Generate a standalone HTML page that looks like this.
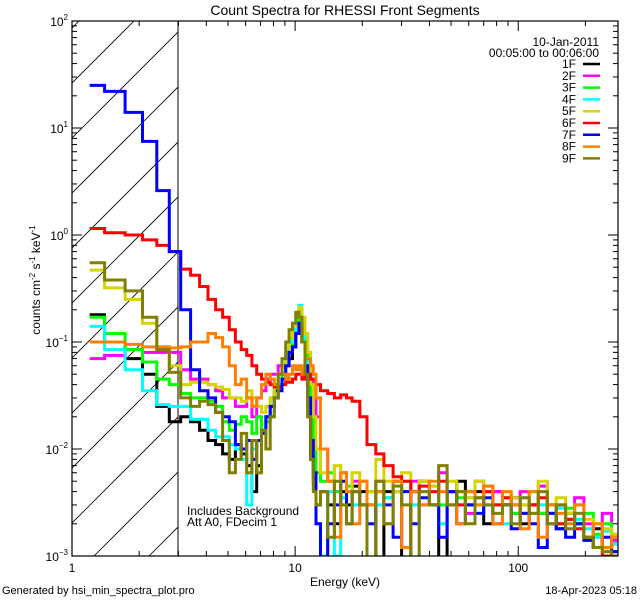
<!DOCTYPE html>
<html><head><meta charset="utf-8"><style>
html,body{margin:0;padding:0;background:#fff;}
svg{display:block;font-family:"Liberation Sans",sans-serif;}
</style></head><body>
<svg id="chart" width="640" height="600" viewBox="0 0 640 600" xmlns="http://www.w3.org/2000/svg">
<defs><clipPath id="pc"><rect x="72" y="21" width="546" height="535"/></clipPath>
<clipPath id="hc"><rect x="72" y="21" width="106" height="535"/></clipPath></defs>
<rect x="0" y="0" width="640" height="600" fill="#fff"/>
<text x="345" y="15" font-size="14" text-anchor="middle">Count Spectra for RHESSI Front Segments</text>
<g id="hatch" clip-path="url(#hc)"></g>
<line x1="178" y1="21" x2="178" y2="556" stroke="#000" stroke-width="1"/>
<g id="series" clip-path="url(#pc)"></g>
<rect x="72" y="21" width="546" height="535" fill="none" stroke="#000" stroke-width="1.2"/>
<g id="axes"></g>
<text x="-280" y="40" font-size="12" text-anchor="middle" transform="rotate(-90)">counts cm<tspan font-size="8" dy="-5">-2</tspan><tspan dy="5"> s</tspan><tspan font-size="8" dy="-5">-1</tspan><tspan dy="5"> keV</tspan><tspan font-size="8" dy="-5">-1</tspan></text>
<text x="345" y="586" font-size="12" text-anchor="middle">Energy (keV)</text>
<text x="2" y="594" font-size="11">Generated by hsi_min_spectra_plot.pro</text>
<text x="637" y="594" font-size="11" text-anchor="end">18-Apr-2023 05:18</text>
<text x="187" y="515" font-size="12">Includes Background</text>
<text x="187" y="526" font-size="12">Att A0, FDecim 1</text>
<text x="599" y="46" font-size="12" text-anchor="end">10-Jan-2011</text>
<text x="599" y="57" font-size="12" text-anchor="end">00:05:00 to 00:06:00</text>
<g id="legend"></g>
</svg>
<script>
const energies=[1.2,1.4,1.73,2.07,2.4,2.73,3.07,3.4,3.73,4.07,4.4,4.73,5.07,5.4,5.73,6.07,6.4,6.73,7.07,7.4,7.73,8.07,8.4,8.73,9.07,9.4,9.73,10.07,10.4,10.73,11.07,11.4,11.73,12.07,12.4,13,14,15,16,17,18,19.5,21,23,25,27.5,30,33,36,40,44,48,53,58,64,70,77,85,93,102,112,123,135,148,163,179,197,217,238,262,280];
const seriesNames=["1F","2F","3F","4F","5F","6F","7F","8F","9F"];
const seriesColors=["#000000","#ff00ff","#00ff00","#00ffff","#d4d400","#ff0000","#0000ff","#ff8000","#808000"];
const s1F=[0.18,0.1,0.07,0.05,0.025,0.018,0.02,0.018,0.015,0.012,0.011,0.009,0.008,0.011,0.009,0.007,0.004,0.007,0.015,0.02,0.025,0.035,0.04,0.05,0.06,0.07,0.09,0.12,0.14,0.1,0.05,0.02,0.008,0.005,0.003,0.004,0.003,0.002,0.004,0.003,0.0045,0.004,0.003,0.0008,0.004,0.005,0.0009,0.004,0.005,0.003,0.0008,0.004,0.005,0.003,0.004,0.002,0.004,0.003,0.0035,0.002,0.003,0.0025,0.003,0.0018,0.0025,0.002,0.0015,0.0018,0.0012,0.0013];
const s2F=[0.07,0.075,0.085,0.08,0.08,0.08,0.055,0.045,0.045,0.04,0.035,0.03,0.03,0.025,0.025,0.03,0.02,0.03,0.035,0.045,0.05,0.05,0.06,0.06,0.07,0.09,0.1,0.15,0.2,0.12,0.08,0.06,0.045,0.04,0.02,0.01,0.005,0.004,0.006,0.004,0.005,0.003,0.004,0.005,0.0035,0.004,0.0012,0.005,0.003,0.004,0.006,0.003,0.004,0.0025,0.005,0.003,0.004,0.003,0.0025,0.004,0.003,0.0045,0.002,0.003,0.0022,0.0035,0.002,0.0015,0.0025,0.0014];
const s3F=[0.17,0.12,0.085,0.065,0.045,0.04,0.033,0.03,0.03,0.028,0.025,0.018,0.015,0.017,0.02,0.018,0.014,0.02,0.015,0.018,0.02,0.03,0.04,0.05,0.07,0.09,0.12,0.15,0.2,0.15,0.08,0.04,0.02,0.01,0.006,0.005,0.006,0.004,0.005,0.0045,0.004,0.005,0.003,0.004,0.0035,0.005,0.004,0.003,0.004,0.0045,0.003,0.004,0.0035,0.004,0.003,0.0045,0.003,0.0035,0.0025,0.003,0.004,0.0025,0.003,0.002,0.0028,0.002,0.0025,0.0016,0.002,0.0015];
const s4F=[0.14,0.085,0.055,0.035,0.026,0.025,0.025,0.019,0.019,0.015,0.013,0.013,0.011,0.01,0.008,0.003,0.01,0.012,0.015,0.02,0.03,0.04,0.05,0.06,0.08,0.1,0.13,0.18,0.22,0.14,0.07,0.03,0.012,0.005,0.002,0.001,0.004,0.001,0.0035,0.004,0.003,0.005,0.004,0.003,0.0035,0.004,0.005,0.003,0.0045,0.004,0.002,0.004,0.003,0.0035,0.0025,0.004,0.003,0.002,0.003,0.0035,0.0025,0.003,0.002,0.0028,0.002,0.0022,0.0018,0.0015,0.0017,0.0013];
const s5F=[0.47,0.32,0.25,0.15,0.09,0.06,0.04,0.042,0.042,0.04,0.038,0.036,0.03,0.03,0.028,0.035,0.03,0.025,0.022,0.025,0.03,0.04,0.05,0.06,0.08,0.11,0.14,0.17,0.21,0.17,0.12,0.08,0.04,0.02,0.01,0.006,0.005,0.007,0.005,0.004,0.006,0.005,0.004,0.008,0.005,0.004,0.006,0.004,0.005,0.0045,0.004,0.005,0.004,0.0035,0.005,0.004,0.003,0.004,0.0035,0.003,0.004,0.005,0.003,0.0035,0.0025,0.003,0.0022,0.002,0.0018,0.0016];
const s6F=[1.15,1.05,1.0,0.9,0.8,0.7,0.48,0.42,0.33,0.25,0.2,0.17,0.13,0.1,0.085,0.075,0.06,0.05,0.045,0.042,0.04,0.038,0.038,0.04,0.042,0.042,0.045,0.05,0.05,0.045,0.048,0.05,0.045,0.045,0.04,0.035,0.033,0.03,0.032,0.03,0.028,0.02,0.011,0.009,0.007,0.0055,0.005,0.004,0.0045,0.004,0.005,0.004,0.003,0.004,0.0035,0.004,0.003,0.0035,0.003,0.0025,0.003,0.0035,0.0025,0.002,0.0022,0.0018,0.0015,0.0012,0.001,0.0011];
const s7F=[25,22,14,7.5,2.6,0.7,0.2,0.055,0.035,0.03,0.022,0.02,0.018,0.011,0.01,0.012,0.008,0.012,0.014,0.02,0.025,0.03,0.035,0.045,0.06,0.08,0.09,0.12,0.15,0.1,0.06,0.03,0.012,0.006,0.002,0.0009,0.002,0.003,0.005,0.002,0.004,0.003,0.002,0.004,0.003,0.0015,0.004,0.002,0.0035,0.003,0.0015,0.004,0.002,0.003,0.0025,0.0035,0.002,0.003,0.0018,0.0025,0.002,0.0012,0.0025,0.0018,0.0015,0.002,0.0014,0.0012,0.0015,0.0011];
const s8F=[0.1,0.1,0.095,0.09,0.09,0.088,0.09,0.1,0.1,0.12,0.11,0.09,0.06,0.04,0.045,0.03,0.025,0.03,0.04,0.05,0.045,0.04,0.05,0.05,0.045,0.05,0.06,0.055,0.06,0.05,0.07,0.07,0.06,0.05,0.03,0.01,0.005,0.0015,0.006,0.004,0.002,0.005,0.003,0.004,0.002,0.005,0.0012,0.004,0.003,0.005,0.004,0.003,0.002,0.004,0.003,0.0045,0.002,0.004,0.003,0.0018,0.004,0.0015,0.003,0.0025,0.002,0.003,0.0015,0.002,0.0012,0.0015];
const s9F=[0.55,0.38,0.3,0.17,0.085,0.052,0.03,0.025,0.028,0.026,0.022,0.012,0.006,0.008,0.014,0.006,0.012,0.006,0.015,0.01,0.02,0.03,0.05,0.07,0.1,0.13,0.15,0.19,0.17,0.1,0.05,0.02,0.008,0.004,0.003,0.004,0.0015,0.005,0.003,0.002,0.004,0.003,0.0008,0.005,0.002,0.0045,0.003,0.0009,0.004,0.003,0.007,0.003,0.004,0.002,0.0035,0.003,0.0025,0.003,0.002,0.0035,0.0025,0.004,0.002,0.003,0.0018,0.0025,0.0015,0.0012,0.0011,0.001];
const seriesData=[s1F,s2F,s3F,s4F,s5F,s6F,s7F,s8F,s9F];
const xMajorTicks=[1,10,100];
const xTickLabels=["1","10","100"];
const yExponents=[-3,-2,-1,0,1,2];

const NS="http://www.w3.org/2000/svg";
const X0=72,X1=618,Y0=21,Y1=556;
const xLogMin=0,xLogMax=Math.log10(280),yLogMin=-3,yLogMax=2;
function xs(e){return X0+(Math.log10(e)-xLogMin)/(xLogMax-xLogMin)*(X1-X0);}
function ys(v){v=Math.max(v,1e-4);return Y1-(Math.log10(v)-yLogMin)/(yLogMax-yLogMin)*(Y1-Y0);}
function mk(tag,attrs,parent){const el=document.createElementNS(NS,tag);for(const k in attrs)el.setAttribute(k,attrs[k]);parent.appendChild(el);return el;}

// hatch
const hatch=document.getElementById('hatch');
for(let c=100;c<=800;c+=55){
  const l=mk('line',{x1:c-Y1,y1:Y1,x2:c-Y0+0,y2:Y0,stroke:'#000','stroke-width':0.8},hatch);
  l.setAttribute('x1',c-Y1+0);l.setAttribute('y1',Y1);l.setAttribute('x2',c-Y0);l.setAttribute('y2',Y0);
  
  
}

// series
const sg=document.getElementById('series');
seriesData.forEach((vals,i)=>{
  let d='M'+xs(energies[0]).toFixed(1)+' '+ys(vals[0]).toFixed(1);
  for(let j=0;j<vals.length;j++){
    if(j>0)d+=' V'+ys(vals[j]).toFixed(1);
    d+=' H'+xs(energies[j+1]).toFixed(1);
  }
  const p=mk('path',{d:d,fill:'none',stroke:seriesColors[i],'stroke-width':3,'stroke-linejoin':'miter'},sg);
  
  
});

// axes ticks
const ax=document.getElementById('axes');
for(let dec=0;dec<3;dec++){
  for(let m=1;m<10;m++){
    const e=m*Math.pow(10,dec);if(e>280)break;
    const x=xs(e);const len=m===1?10:5;
    const t1=mk('line',{x1:x,y1:Y1,x2:x,y2:Y1-len,stroke:'#000','stroke-width':1},ax);
    
    
    const t2=mk('line',{x1:x,y1:Y0,x2:x,y2:Y0+len,stroke:'#000','stroke-width':1},ax);
    
    
  }
}
xMajorTicks.forEach((e,i)=>{
  const t=mk('text',{x:xs(e),y:572,'font-size':12,'text-anchor':'middle'},ax);
  t.textContent=xTickLabels[i];
  
  
});
yExponents.forEach(p=>{
  for(let m=1;m<10;m++){
    const v=m*Math.pow(10,p);if(v>100.001)break;
    const y=ys(v);const len=m===1?10:5;
    const a=mk('line',{x1:X0,y1:y,x2:X0+len,y2:y,stroke:'#000','stroke-width':1},ax);
    
    
    const b=mk('line',{x1:X1,y1:y,x2:X1-len,y2:y,stroke:'#000','stroke-width':1},ax);
    
    
  }
  const t=mk('text',{x:X0-4,y:ys(Math.pow(10,p))+5,'font-size':12,'text-anchor':'end'},ax);
  t.innerHTML='10<tspan font-size="8" dy="-6">'+(p<0?'\u2212'+(-p):p)+'</tspan>';
  
  
});

// legend
const lg=document.getElementById('legend');
seriesNames.forEach((n,i)=>{
  const y=64+i*11.8;
  const t=mk('text',{x:576,y:y+4,'font-size':12,'text-anchor':'end'},lg);
  t.textContent=n;
  
  
  const l=mk('line',{x1:583,y1:y,x2:600,y2:y,stroke:seriesColors[i],'stroke-width':2.5},lg);
  
  
});
</script>
</body></html>
